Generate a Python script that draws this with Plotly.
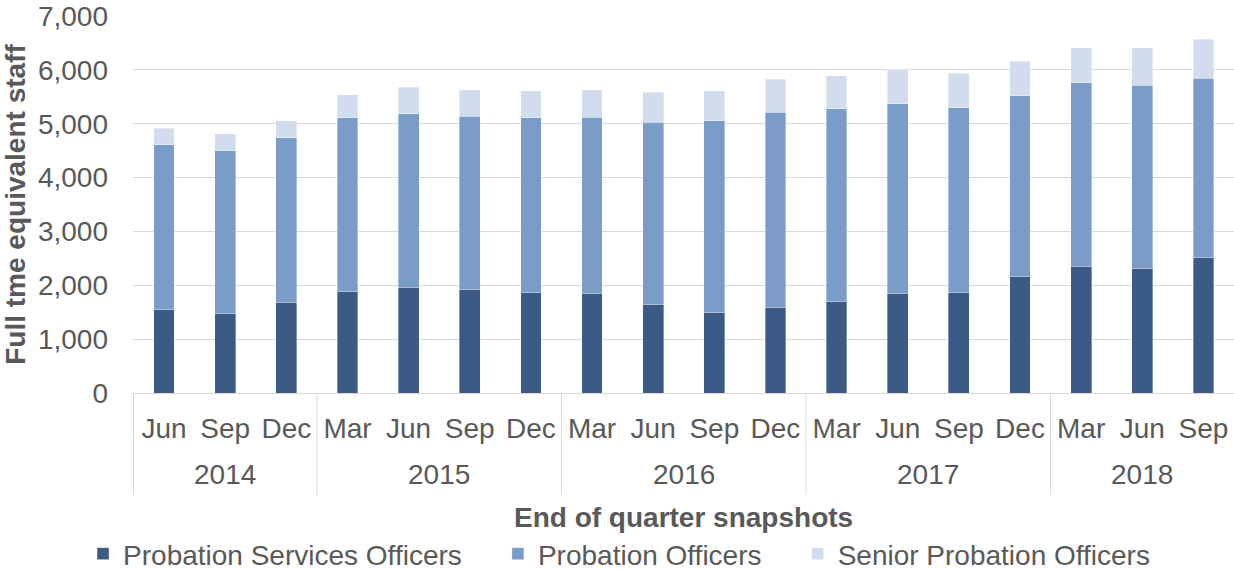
import plotly.graph_objects as go

years = ["2014"] * 3 + ["2015"] * 4 + ["2016"] * 4 + ["2017"] * 4 + ["2018"] * 3
months = ["Jun", "Sep", "Dec",
          "Mar", "Jun", "Sep", "Dec",
          "Mar", "Jun", "Sep", "Dec",
          "Mar", "Jun", "Sep", "Dec",
          "Mar", "Jun", "Sep"]

pso = [1545, 1471, 1688, 1880, 1967, 1930, 1867, 1855, 1644, 1503, 1596, 1694, 1848, 1861, 2158, 2349, 2312, 2510]
po = [3062, 3024, 3055, 3228, 3215, 3209, 3241, 3266, 3384, 3555, 3617, 3587, 3526, 3438, 3364, 3414, 3402, 3334]
spo = [309, 322, 309, 427, 495, 489, 507, 512, 556, 557, 613, 606, 624, 638, 638, 649, 698, 729]

series = [
    ("Probation Services Officers", pso, "#3b5a86"),
    ("Probation Officers", po, "#7a9cc9"),
    ("Senior Probation Officers", spo, "#d1ddec"),
]

font_family = "Liberation Sans, Arial, sans-serif"
grey = "#595959"
fs = 28
pad = "\u00a0" * 4  # extra spacing between legend entries

cats = [f"{m} {y}" for m, y in zip(months, years)]

fig = go.Figure()
for name, vals, col in series:
    fig.add_trace(go.Bar(
        x=cats, y=vals, name=name + pad,
        marker=dict(color=col, line=dict(width=0.6, color="rgba(255,255,255,0.6)")),
    ))

# year groups: label centres and divider positions from the category lists
year_order = []
for y in years:
    if y not in year_order:
        year_order.append(y)
annotations = []
shapes = []
for yr in year_order:
    idx = [i for i, v in enumerate(years) if v == yr]
    annotations.append(dict(
        x=(idx[0] + idx[-1]) / 2, xref="x", y=-0.215, yref="paper",
        text=yr, showarrow=False, yanchor="middle",
        font=dict(size=fs, color=grey, family=font_family),
    ))
    shapes.append(dict(
        type="line", xref="x", yref="paper",
        x0=idx[0] - 0.5, x1=idx[0] - 0.5, y0=0, y1=-0.27,
        line=dict(color="#d9d9d9", width=1),
    ))

annotations.append(dict(
    x=0.5, xref="paper", y=-0.329, yref="paper", showarrow=False, yanchor="middle",
    text="<b>End of quarter snapshots</b>",
    font=dict(size=fs, color=grey, family=font_family),
))

fig.update_layout(
    barmode="stack",
    bargap=0.66,
    width=1234, height=570,
    margin=dict(l=133, r=0, t=16, b=177, autoexpand=False),
    plot_bgcolor="white", paper_bgcolor="white",
    font=dict(family=font_family, size=fs, color=grey),
    showlegend=True,
    legend=dict(orientation="h", x=0.456, xanchor="center", y=-0.427, yanchor="middle",
                font=dict(size=fs, color=grey), traceorder="normal"),
    annotations=annotations,
    shapes=shapes,
    xaxis=dict(
        type="category",
        tickvals=cats, ticktext=months,
        showline=True, linecolor="#d9d9d9", linewidth=1,
        showgrid=False, ticks="",
        tickfont=dict(size=fs, color=grey),
        ticklabelstandoff=10,
        automargin=False,
    ),
    yaxis=dict(
        range=[0, 7000], dtick=1000, tickformat=",d",
        showgrid=True, gridcolor="#d9d9d9", gridwidth=1,
        zeroline=False, showline=False,
        tickfont=dict(size=fs, color=grey),
        ticklabelstandoff=24,
        automargin=False,
        title=dict(text="<b>Full tme equivalent staff</b>", font=dict(size=fs, color=grey), standoff=10),
    ),
)

fig.write_html("out.html", config={"displayModeBar": False},
               post_script="document.body.style.margin='0px';")
